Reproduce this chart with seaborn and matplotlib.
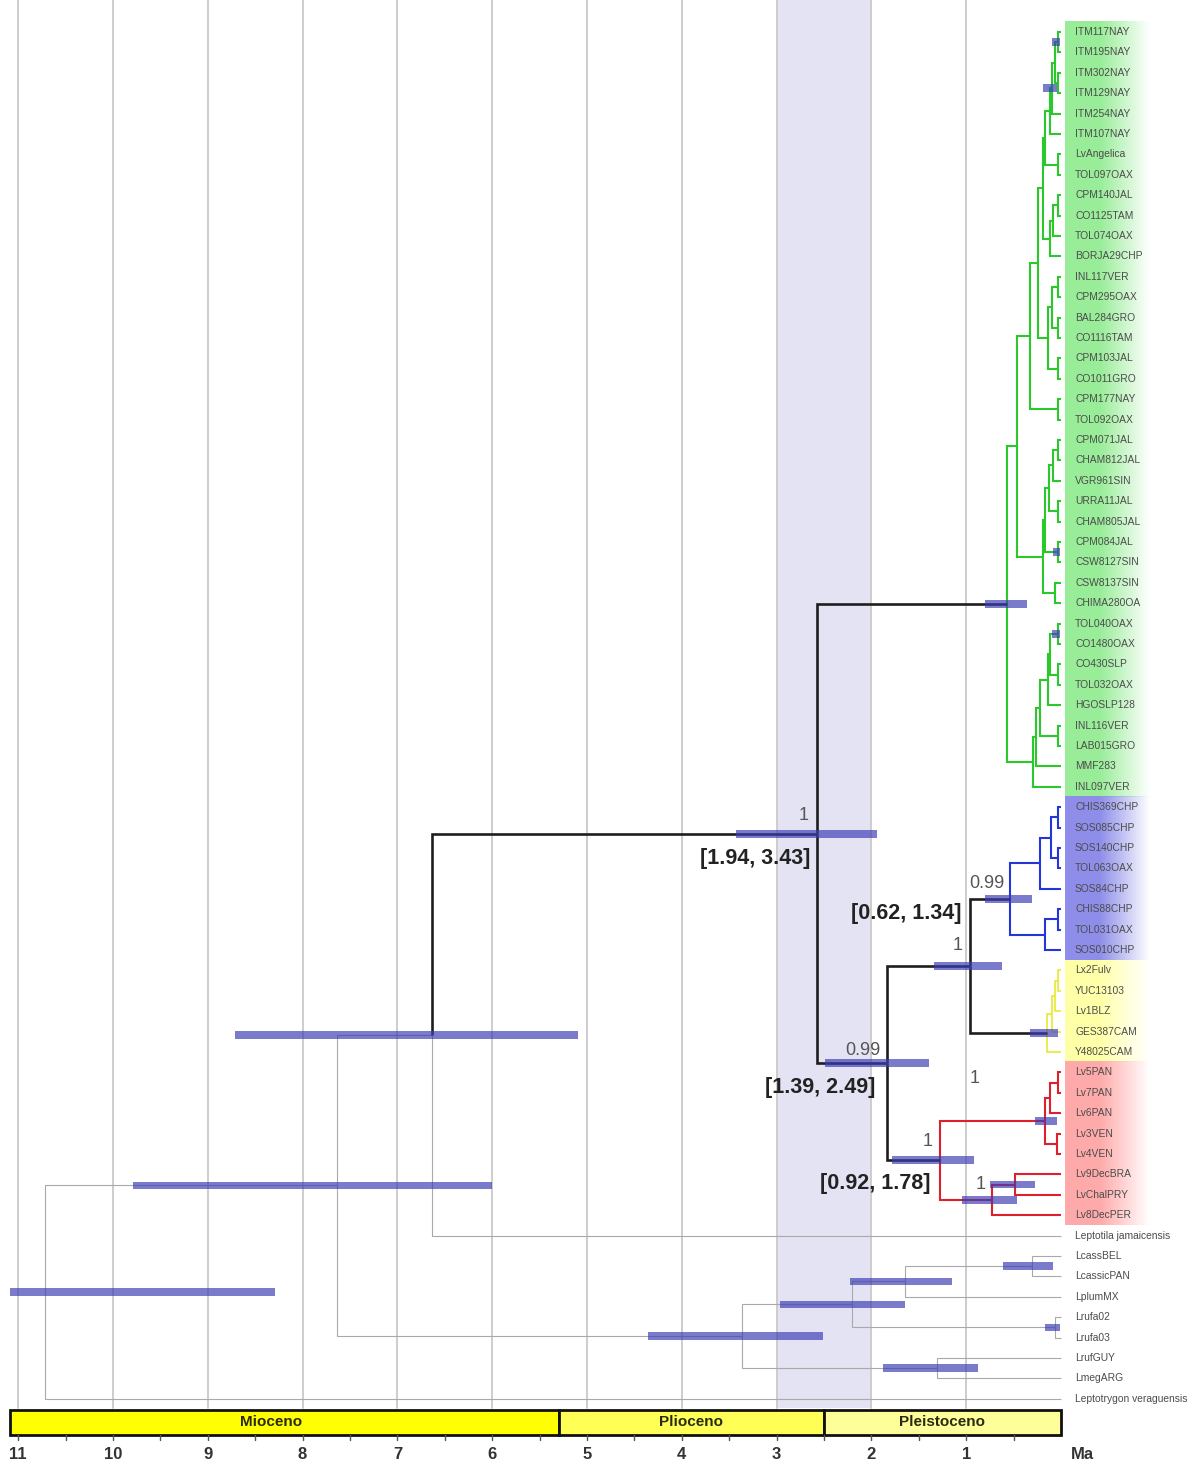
import numpy as np
import matplotlib
matplotlib.use('Agg')
import matplotlib.pyplot as plt
import seaborn as sns

# ---- data ---------------------------------------------------------------
tip_names = [
    'ITM117NAY', 'ITM195NAY', 'ITM302NAY', 'ITM129NAY', 'ITM254NAY', 'ITM107NAY',
    'LvAngelica', 'TOL097OAX', 'CPM140JAL', 'CO1125TAM', 'TOL074OAX', 'BORJA29CHP',
    'INL117VER', 'CPM295OAX', 'BAL284GRO', 'CO1116TAM', 'CPM103JAL', 'CO1011GRO',
    'CPM177NAY', 'TOL092OAX', 'CPM071JAL', 'CHAM812JAL', 'VGR961SIN', 'URRA11JAL',
    'CHAM805JAL', 'CPM084JAL', 'CSW8127SIN', 'CSW8137SIN', 'CHIMA280OA', 'TOL040OAX',
    'CO1480OAX', 'CO430SLP', 'TOL032OAX', 'HGOSLP128', 'INL116VER', 'LAB015GRO',
    'MMF283', 'INL097VER',
    'CHIS369CHP', 'SOS085CHP', 'SOS140CHP', 'TOL063OAX', 'SOS84CHP', 'CHIS88CHP',
    'TOL031OAX', 'SOS010CHP',
    'Lx2Fulv', 'YUC13103', 'Lv1BLZ', 'GES387CAM', 'Y48025CAM',
    'Lv5PAN', 'Lv7PAN', 'Lv6PAN', 'Lv3VEN', 'Lv4VEN', 'Lv9DecBRA', 'LvChalPRY', 'Lv8DecPER',
    'Leptotila jamaicensis', 'LcassBEL', 'LcassicPAN', 'LplumMX', 'Lrufa02', 'Lrufa03',
    'LrufGUY', 'LmegARG', 'Leptotrygon veraguensis',
]
tip_group = ['g'] * 38 + ['b'] * 8 + ['y'] * 5 + ['r'] * 8 + ['o'] * 9

node_ids = ['g1', 'g2', 'g3', 'g4', 'g5', 'g6', 'g7', 'g8', 'g9', 'g10', 'g11', 'g12',
            'g13', 'g14', 'g15', 'g16', 'g17', 'g18', 'g19', 'g20', 'g21', 'g22', 'g23',
            'g24', 'g25', 'g26', 'g27', 'g28', 'g29', 'g30', 'g31', 'g32', 'g33', 'g34',
            'g35', 'g36', 'G',
            'b1', 'b2', 'b3', 'b4', 'b5', 'b6', 'B',
            'y1', 'y2', 'y3', 'Y',
            'r1', 'r2', 'r3', 'r4', 'r5', 'r6', 'R',
            'BY', 'BYR', 'ING', 'N432',
            'o1', 'o2', 'o3', 'o4', 'o5', 'o6', 'N337', 'ROOT']
node_left = ['ITM117NAY', 'ITM302NAY', 'g1', 'g3', 'g4', 'LvAngelica', 'g5', 'CPM140JAL',
             'g8', 'g9', 'g7', 'INL117VER', 'BAL284GRO', 'g12', 'CPM103JAL', 'g14', 'g11',
             'CPM177NAY', 'g17', 'CPM071JAL', 'g20', 'URRA11JAL', 'g21', 'CPM084JAL', 'g23',
             'CSW8137SIN', 'g25', 'g19', 'TOL040OAX', 'CO430SLP', 'g29', 'g31', 'INL116VER',
             'g32', 'g34', 'g35', 'g28',
             'CHIS369CHP', 'SOS140CHP', 'b1', 'b3', 'CHIS88CHP', 'b5', 'b4',
             'Lx2Fulv', 'y1', 'y2', 'y3',
             'Lv5PAN', 'r1', 'Lv3VEN', 'r2', 'Lv9DecBRA', 'r5', 'r4',
             'B', 'BY', 'G', 'ING',
             'LcassBEL', 'o1', 'Lrufa02', 'o2', 'LrufGUY', 'o4', 'N432', 'N337']
node_right = ['ITM195NAY', 'ITM129NAY', 'g2', 'ITM254NAY', 'ITM107NAY', 'TOL097OAX', 'g6',
              'CO1125TAM', 'TOL074OAX', 'BORJA29CHP', 'g10', 'CPM295OAX', 'CO1116TAM',
              'g13', 'CO1011GRO', 'g15', 'g16', 'TOL092OAX', 'g18', 'CHAM812JAL',
              'VGR961SIN', 'CHAM805JAL', 'g22', 'CSW8127SIN', 'g24', 'CHIMA280OA', 'g26',
              'g27', 'CO1480OAX', 'TOL032OAX', 'g30', 'HGOSLP128', 'LAB015GRO', 'g33',
              'MMF283', 'INL097VER', 'g36',
              'SOS085CHP', 'TOL063OAX', 'b2', 'SOS84CHP', 'TOL031OAX', 'SOS010CHP', 'b6',
              'YUC13103', 'Lv1BLZ', 'GES387CAM', 'Y48025CAM',
              'Lv7PAN', 'Lv6PAN', 'Lv4VEN', 'r3', 'LvChalPRY', 'Lv8DecPER', 'r6',
              'Y', 'R', 'BYR', 'Leptotila jamaicensis',
              'LcassicPAN', 'LplumMX', 'Lrufa03', 'o3', 'LmegARG', 'o5', 'o6',
              'Leptotrygon veraguensis']
node_age = [0.03, 0.03, 0.06, 0.10, 0.12, 0.03, 0.17, 0.03, 0.08, 0.12, 0.19, 0.03,
            0.03, 0.09, 0.03, 0.14, 0.24, 0.03, 0.33, 0.03, 0.08, 0.03, 0.13, 0.03, 0.17,
            0.06, 0.19, 0.46, 0.03, 0.03, 0.12, 0.14, 0.03, 0.22, 0.26, 0.30, 0.57,
            0.03, 0.03, 0.11, 0.22, 0.03, 0.17, 0.54,
            0.03, 0.06, 0.09, 0.15,
            0.03, 0.12, 0.04, 0.17, 0.49, 0.73, 1.28,
            0.96, 1.84, 2.57, 6.63,
            0.31, 1.65, 0.06, 2.20, 1.31, 3.37, 7.64, 10.72]
node_hpd_lo = [0.01, np.nan, np.nan, 0.04, np.nan, np.nan, np.nan, np.nan, np.nan, np.nan,
               np.nan, np.nan, np.nan, np.nan, np.nan, np.nan, np.nan, np.nan, np.nan,
               np.nan, np.nan, np.nan, np.nan, 0.01, np.nan, np.nan, np.nan, np.nan, 0.01,
               np.nan, np.nan, np.nan, np.nan, np.nan, np.nan, np.nan, 0.36,
               np.nan, np.nan, np.nan, np.nan, np.nan, np.nan, 0.31,
               np.nan, np.nan, np.nan, 0.03,
               np.nan, np.nan, np.nan, 0.04, 0.27, 0.46, 0.92,
               0.62, 1.39, 1.94, 5.09,
               0.08, 1.15, 0.01, 1.65, 0.88, 2.51, 6.00, 8.29]
node_hpd_hi = [0.09, np.nan, np.nan, 0.19, np.nan, np.nan, np.nan, np.nan, np.nan, np.nan,
               np.nan, np.nan, np.nan, np.nan, np.nan, np.nan, np.nan, np.nan, np.nan,
               np.nan, np.nan, np.nan, np.nan, 0.08, np.nan, np.nan, np.nan, np.nan, 0.09,
               np.nan, np.nan, np.nan, np.nan, np.nan, np.nan, np.nan, 0.80,
               np.nan, np.nan, np.nan, np.nan, np.nan, np.nan, 0.80,
               np.nan, np.nan, np.nan, 0.33,
               np.nan, np.nan, np.nan, 0.27, 0.75, 1.04, 1.78,
               1.34, 2.49, 3.43, 8.71,
               0.61, 2.23, 0.17, 2.96, 1.88, 4.36, 9.79, 11.09]
# colour class of the branch leading to each node
node_stem = ['g'] * 36 + ['k'] + ['b'] * 6 + ['k'] + ['y'] * 3 + ['k'] + \
            ['r'] * 6 + ['k'] + ['k', 'k', 'k', 'o'] + ['o'] * 8
# posterior support shown on some nodes
node_post = {'ING': '1', 'B': '0.99', 'BY': '1', 'BYR': '0.99', 'R': '1', 'r6': '1', 'r4': '1'}
hpd_label_nodes = ['ING', 'BY', 'BYR', 'R']

epoch_names = ['Mioceno', 'Plioceno', 'Pleistoceno']
epoch_start = [11.09, 5.3, 2.5]
epoch_end = [5.3, 2.5, 0.0]

# ---- layout -------------------------------------------------------------
sns.set_theme(style='white')
plt.rcParams['font.family'] = ['Liberation Sans', 'DejaVu Sans']

W, H = 1195, 1464
PX_MA = 94.8          # pixels per million years
X0 = 1061             # pixel of age 0
ROW0, ROW = 32, 20.4  # first tip pixel row and spacing

fig = plt.figure(figsize=(W / 100, H / 100), dpi=100)
ax = fig.add_axes([0, 0, 1, 1])
xlim = (X0 / PX_MA, (X0 - W) / PX_MA)
ylim = ((H - ROW0) / ROW, -ROW0 / ROW)

line_col = {'g': '#2BC82B', 'b': '#2436D8', 'y': '#E6E61E', 'r': '#DE1F2C',
            'k': '#1E1E1E', 'o': '#A9A9A9'}
line_w = {'g': 1.5, 'b': 1.5, 'y': 1.1, 'r': 1.5, 'k': 1.9, 'o': 0.8}
line_z = {'o': 3, 'g': 4, 'b': 4, 'y': 4, 'r': 4, 'k': 4.5}

# node positions
pos = {n: (0.0, float(i)) for i, n in enumerate(tip_names)}
stem = {n: g for n, g in zip(tip_names, tip_group)}
for nid, l, r, a, s in zip(node_ids, node_left, node_right, node_age, node_stem):
    pos[nid] = (a, (pos[l][1] + pos[r][1]) / 2)
    stem[nid] = s

grid_bottom = 67.45
ax.fill_betweenx([ylim[1], grid_bottom], 3, 2, color='#E3E3F3', zorder=0, lw=0)
for a in range(1, 12):
    ax.plot([a, a], [ylim[1], grid_bottom], color='#CDCDCD', lw=1.4, zorder=1)

# label background gradients
bg_col = {'g': (0.60, 0.93, 0.60), 'b': (0.56, 0.56, 0.92), 'y': (1.0, 1.0, 0.66),
          'r': (1.0, 0.67, 0.67)}
t = np.linspace(0, 1, 200)
alpha = np.clip(1.7 * (1 - t), 0, 1)
for g in ['g', 'b', 'y', 'r']:
    idx = [i for i, gg in enumerate(tip_group) if gg == g]
    img = np.zeros((1, len(t), 4))
    img[0, :, :3] = bg_col[g]
    img[0, :, 3] = alpha
    ax.imshow(img, extent=[-0.04, -0.93, idx[-1] + 0.5, idx[0] - 0.5],
              aspect='auto', zorder=2, interpolation='bilinear')

# branches
for nid, l, r in zip(node_ids, node_left, node_right):
    na, ny = pos[nid]
    for c in (l, r):
        ca, cy = pos[c]
        k = stem[c]
        ax.plot([na, na, ca], [ny, cy, cy], color=line_col[k], lw=line_w[k],
                zorder=line_z[k], solid_capstyle='butt', solid_joinstyle='miter')

# HPD bars
for nid, lo, hi in zip(node_ids, node_hpd_lo, node_hpd_hi):
    if np.isnan(lo):
        continue
    ax.barh(pos[nid][1], hi - lo, left=lo, height=0.38, color='#3C3CB4',
            alpha=0.68, lw=0, zorder=6)

# tip labels
for i, n in enumerate(tip_names):
    ax.text(-0.148, i, n, va='center', ha='left', fontsize=7.4, color='#4C4C4C', zorder=7)

# posterior and HPD labels (offsets in image pixels, y downward)
post_off = {'ING': (-14, -18), 'B': (-23, -15), 'BY': (-12, -20), 'BYR': (-24, -13),
            'R': (-12, -19), 'r6': (-11, -15), 'r4': (-70, -42)}
for nid, txt in node_post.items():
    dx, dy = post_off[nid]
    ax.annotate(txt, pos[nid], xytext=(dx, -dy), textcoords='offset pixels',
                ha='center', va='center', fontsize=13, color='#555555', zorder=8)
hpd_off = {'ING': (-62, 25), 'BY': (-64, -52), 'BYR': (-66, 24), 'R': (-64, 23)}
for nid in hpd_label_nodes:
    k = node_ids.index(nid)
    txt = f'[{node_hpd_lo[k]:.2f}, {node_hpd_hi[k]:.2f}]'
    dx, dy = hpd_off[nid]
    ax.annotate(txt, pos[nid], xytext=(dx, -dy), textcoords='offset pixels',
                ha='center', va='center', fontsize=15.5, fontweight='bold',
                color='#222222', zorder=8)

# geological time scale
ep_col = ['#FFFF00', '#FFFF55', '#FFFF99']
ep_text_shift = [0.14, 0.0, 0.0]
bar_y, bar_h = 68.16, 1.22
for name, s, e, c, sh in zip(epoch_names, epoch_start, epoch_end, ep_col, ep_text_shift):
    ax.barh(bar_y, s - e, left=e, height=bar_h, color=c, edgecolor='#111111',
            lw=2, zorder=5)
    ax.text((s + e) / 2 + sh, bar_y, name, ha='center', va='center', fontsize=11,
            fontweight='bold', color='#2A2A10', zorder=6)
for a in np.arange(0.5, 11.01, 0.5):
    ax.plot([a, a], [bar_y + bar_h / 2, bar_y + bar_h / 2 + 0.25], color='#555555',
            lw=1.0, zorder=5)
for a in range(1, 12):
    ax.text(a, 69.75, str(a), ha='center', va='center', fontsize=12,
            fontweight='bold', color='#333333')
ax.text(-0.23, 69.75, 'Ma', ha='center', va='center', fontsize=12,
        fontweight='bold', color='#333333')

ax.set_xlim(*xlim)
ax.set_ylim(*ylim)
ax.set_axis_off()
sns.despine(ax=ax, left=True, bottom=True)
fig.savefig('out.png', dpi=100, facecolor='white')
